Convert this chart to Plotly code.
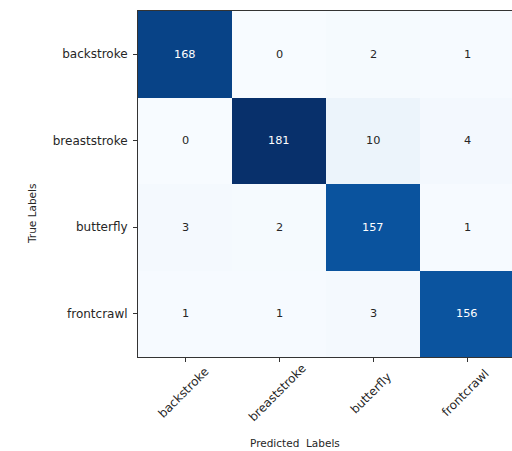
import plotly.graph_objects as go

# Confusion matrix of swim-stroke classifier
classes = ["backstroke", "breaststroke", "butterfly", "frontcrawl"]
counts = [
    [168, 0, 2, 1],
    [0, 181, 10, 4],
    [3, 2, 157, 1],
    [1, 1, 3, 156],
]

# matplotlib "Blues" sequential colormap
blues = ["#f7fbff", "#deebf7", "#c6dbef", "#9ecae1", "#6baed6",
         "#4292c6", "#2171b5", "#08519c", "#08306b"]
colorscale = [[i / (len(blues) - 1), c] for i, c in enumerate(blues)]

idx = list(range(len(classes)))
zmax = max(max(r) for r in counts)
thresh = zmax / 2.0

FONT = "DejaVu Sans"
INK = "#262626"

fig = go.Figure(
    go.Heatmap(
        z=counts,
        x=idx,
        y=idx,
        colorscale=colorscale,
        zmin=0,
        zmax=zmax,
        showscale=False,
        hoverinfo="skip",
    )
)

annotations = []
# cell counts
for i, row in enumerate(counts):
    for j, v in enumerate(row):
        annotations.append(dict(
            x=j, y=i, xref="x", yref="y", text=str(v), showarrow=False,
            font=dict(family=FONT, size=11.3,
                      color="white" if v > thresh else INK),
        ))

# rotated predicted-class labels, centred under each tick
for j, name in enumerate(classes):
    annotations.append(dict(
        x=j - 0.02, y=-0.104, xref="x", yref="paper", text=name, showarrow=False,
        textangle=-45, xanchor="center", yanchor="middle",
        font=dict(family=FONT, size=12, color=INK),
    ))

W, H = 512, 451
L, T, B, R = 138, 11, 94, 0
pw, ph = W - L - R, H - T - B

# axis titles, placed by pixel position on the page
titles = [
    ("Predicted  Labels", 295, 443, 0),
    ("True Labels", 32, 214, -90),
]
for text, px, py, ang in titles:
    annotations.append(dict(
        x=(px - L) / pw, y=1 - (py - T) / ph, xref="paper", yref="paper",
        text=text, showarrow=False, textangle=ang,
        xanchor="center", yanchor="middle",
        font=dict(family=FONT, size=10.5, color=INK),
    ))

col_w = 94.0
fig.update_layout(
    width=W, height=H,
    margin=dict(l=L, r=R, t=T, b=B, pad=0),
    paper_bgcolor="white",
    plot_bgcolor="white",
    annotations=annotations,
    font=dict(family=FONT, color=INK),
)
fig.update_xaxes(
    range=[-0.5, -0.5 + pw / col_w],
    tickvals=idx, showticklabels=False,
    ticks="outside", ticklen=4, tickwidth=1, tickcolor="#333333",
    showline=True, linecolor="#333333", linewidth=1, mirror=True,
    showgrid=False, zeroline=False,
)
fig.update_yaxes(
    range=[3.5, -0.5],
    tickvals=idx, ticktext=classes,
    ticks="outside", ticklen=4, tickwidth=1, tickcolor="#333333",
    tickfont=dict(family=FONT, size=12, color=INK),
    ticklabelstandoff=3,
    showline=True, linecolor="#333333", linewidth=1, mirror=False,
    showgrid=False, zeroline=False,
)

fig.write_html("out.html")
